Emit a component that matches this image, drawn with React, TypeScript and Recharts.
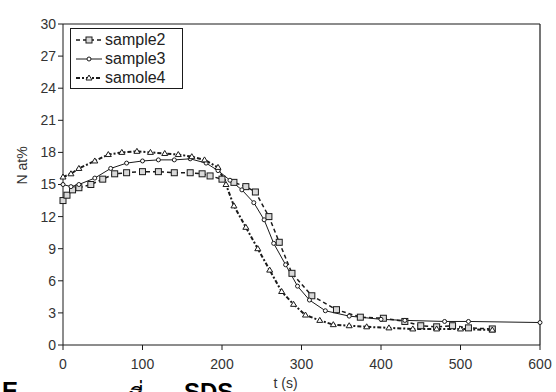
import { Line, LineChart, ReferenceLine, XAxis, YAxis } from 'recharts';

const ink = '#1a1a1a';
const font = '"Liberation Sans", Arial, sans-serif';

// sample2: dashed, square markers
const t2 = [0, 5, 12, 20, 35, 50, 65, 80, 100, 120, 140, 160, 175, 185, 200, 215, 230, 242, 259, 272, 288, 313, 344, 374, 403, 430, 450, 470, 490, 510, 540];
const v2 = [13.5, 14, 14.5, 14.7, 15, 15.5, 16, 16.1, 16.2, 16.2, 16.1, 16.1, 16, 15.8, 15.5, 15.2, 14.8, 14.3, 12, 9.6, 6.7, 4.6, 3.3, 2.6, 2.5, 2.2, 1.8, 1.7, 1.8, 1.6, 1.5];

// sample3: thin solid, small circles
const t3 = [0, 10, 20, 40, 60, 80, 100, 120, 140, 160, 180, 195, 210, 225, 240, 253, 265, 280, 295, 310, 330, 360, 400, 430, 480, 510, 600];
const v3 = [15, 14.8, 15, 15.6, 16.5, 17, 17.2, 17.3, 17.3, 17.4, 17, 16.3, 15.4, 14.5, 13.3, 11.7, 9.5, 7.5, 5.5, 4.2, 3.2, 2.7, 2.4, 2.3, 2.2, 2.2, 2.1];

// samole4: dash-dot, triangle markers
const t4 = [0, 10, 20, 40, 57, 74, 93, 110, 128, 145, 162, 178, 195, 205, 215, 230, 245, 260, 275, 290, 305, 323, 340, 360, 382, 410, 440, 470, 500, 540];
const v4 = [15.7, 16, 16.5, 17.2, 17.8, 18, 18.1, 18, 17.9, 17.8, 17.6, 17.3, 16.6, 15, 13, 11, 9, 7, 5, 3.8, 2.8, 2.3, 1.9, 1.8, 1.7, 1.6, 1.5, 1.5, 1.5, 1.4];

const xTicks = [0, 100, 200, 300, 400, 500, 600];
const yTicks = [0, 3, 6, 9, 12, 15, 18, 21, 24, 27, 30];

const toRows = (ts: number[], vs: number[]) => ts.map((t, i) => ({ t, v: vs[i] }));
const d2 = toRows(t2, v2);
const d3 = toRows(t3, v3);
const d4 = toRows(t4, v4);

const Square = (p: any) => (
  <rect key={p.key} x={p.cx - 3} y={p.cy - 3} width={6} height={6} fill="#d9d9d9" stroke={ink} strokeWidth={1} />
);
const Circle = (p: any) => (
  <circle key={p.key} cx={p.cx} cy={p.cy} r={2} fill="#fff" stroke={ink} strokeWidth={1} />
);
const Tri = (p: any) => (
  <path key={p.key} d={`M${p.cx},${p.cy - 3}L${p.cx + 3},${p.cy + 2}L${p.cx - 3},${p.cy + 2}Z`} fill="#fff" stroke={ink} strokeWidth={1} />
);

const legendRows = [
  { name: 'sample2', dash: '4 3', w: 1.5, m: 'sq' },
  { name: 'sample3', dash: undefined, w: 1, m: 'ci' },
  { name: 'samole4', dash: '4 2 2 2', w: 2, m: 'tr' },
];

const LegendBox = () => (
  <div style={{ position: 'absolute', left: 70, top: 28, border: `1.5px solid ${ink}`, background: '#fff', padding: '1px 6px 1px 3px', width: 102 }}>
    {legendRows.map((r) => (
      <div key={r.name} style={{ display: 'flex', alignItems: 'center', height: 19 }}>
        <svg width={30} height={10}>
          <line x1={2} y1={5} x2={28} y2={5} stroke={ink} strokeWidth={r.w} strokeDasharray={r.dash} />
          {r.m === 'sq' && <rect x={12} y={2} width={6} height={6} fill="#d9d9d9" stroke={ink} />}
          {r.m === 'ci' && <circle cx={15} cy={5} r={2} fill="#fff" stroke={ink} />}
          {r.m === 'tr' && <path d="M15,2L18,7L12,7Z" fill="#fff" stroke={ink} />}
        </svg>
        <span style={{ fontFamily: font, fontSize: 16, color: '#222', marginLeft: 1, lineHeight: '19px' }}>{r.name}</span>
      </div>
    ))}
  </div>
);

export default function App() {
  return (
    <div style={{ position: 'absolute', left: 0, top: 0, width: 556, height: 392, overflow: 'hidden', background: '#fff' }}>
      <LineChart width={556} height={392} margin={{ top: 24, right: 16, bottom: 0, left: 0 }}>
        <XAxis
          type="number"
          dataKey="t"
          domain={[0, 600]}
          ticks={xTicks}
          height={47}
          stroke={ink}
          tickSize={5}
          tickMargin={9}
          tick={{ fill: '#333', fontFamily: font, fontSize: 14 }}
          label={{ value: 't (s)', position: 'insideBottom', offset: 4, dx: -16, fill: '#333', fontFamily: font, fontSize: 14 }}
          allowDuplicatedCategory={false}
        />
        <YAxis
          type="number"
          dataKey="v"
          domain={[0, 30]}
          ticks={yTicks}
          width={63}
          stroke={ink}
          tickSize={5}
          tickMargin={2}
          tick={{ fill: '#333', fontFamily: font, fontSize: 14 }}
          label={{ value: 'N at%', angle: -90, position: 'insideLeft', offset: 22, fill: '#333', fontFamily: font, fontSize: 14 }}
        />
        <ReferenceLine y={30} stroke={ink} strokeWidth={1.2} ifOverflow="extendDomain" />
        <ReferenceLine x={600} stroke={ink} strokeWidth={1.2} ifOverflow="extendDomain" />
        <Line data={d2} dataKey="v" name="sample2" stroke={ink} strokeWidth={1.5} strokeDasharray="4 3" dot={Square} isAnimationActive={false} />
        <Line data={d3} dataKey="v" name="sample3" stroke={ink} strokeWidth={1} dot={Circle} isAnimationActive={false} />
        <Line data={d4} dataKey="v" name="samole4" stroke={ink} strokeWidth={2} strokeDasharray="4 2 2 2" dot={Tri} isAnimationActive={false} />
      </LineChart>
      <LegendBox />
      <div style={{ position: 'absolute', left: 2, top: 377, fontFamily: font, fontSize: 24, fontWeight: 'bold', color: '#000' }}>E</div>
      <div style={{ position: 'absolute', left: 128, top: 377, fontFamily: font, fontSize: 24, color: '#000' }}>ที่</div>
      <div style={{ position: 'absolute', left: 184, top: 378, fontFamily: font, fontSize: 24, fontWeight: 'bold', color: '#000' }}>SDS</div>
    </div>
  );
}
